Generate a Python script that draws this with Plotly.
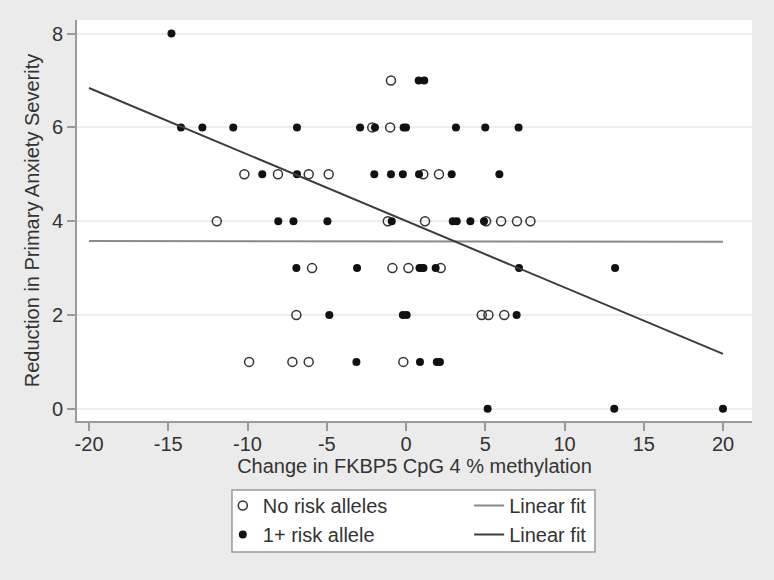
import plotly.graph_objects as go

# no risk alleles (open circles)
open_x = [-0.95,
          -2.13, -1.0,
          -10.2, -8.08, -6.14, -4.88, 1.09, 2.08,
          -11.94, -1.15, 1.2, 5.05, 6.0, 7.0, 7.85,
          -5.93, -0.86, 0.15, 2.19,
          -6.92, 4.78, 5.2, 6.2,
          -9.9, -7.17, -6.14, -0.17]
open_y = [7,
          6, 6,
          5, 5, 5, 5, 5, 5,
          4, 4, 4, 4, 4, 4, 4,
          3, 3, 3, 3,
          2, 2, 2, 2,
          1, 1, 1, 1]

# 1+ risk allele (filled dots)
risk_x = [-14.8,
          0.8, 1.15,
          -14.2, -12.85, -10.9, -6.88, -2.9, -1.96, -0.15, 0.0, 3.15, 5.0, 7.1,
          -9.07, -6.88, -2.0, -0.95, -0.2, 0.82, 2.88, 5.89,
          -8.06, -7.1, -4.96, -0.9, 2.95, 3.2, 4.06, 4.92,
          -6.92, -3.09, 0.85, 1.0, 1.1, 1.87, 7.13, 13.19,
          -4.84, -0.2, 0.04, 6.98,
          -3.13, 0.88, 1.94, 2.14,
          5.15, 13.14, 20.0]
risk_y = [8,
          7, 7,
          6, 6, 6, 6, 6, 6, 6, 6, 6, 6, 6,
          5, 5, 5, 5, 5, 5, 5, 5,
          4, 4, 4, 4, 4, 4, 4, 4,
          3, 3, 3, 3, 3, 3, 3, 3,
          2, 2, 2, 2,
          1, 1, 1, 1,
          0, 0, 0]

# linear fits (end points)
fit_x = [-20, 20]
open_fit_y = [3.58, 3.56]
risk_fit_y = [6.84, 1.17]

x_ticks = [-20, -15, -10, -5, 0, 5, 10, 15, 20]
x_tick_labels = ['-20', '-15', '-10', '-5', '0', '5', '10', '15', '20']
y_ticks = [0, 2, 4, 6, 8]

FONT = 'Liberation Sans, Arial, sans-serif'
TXT = '#333333'

fig = go.Figure()

fig.add_trace(go.Scatter(
    x=open_x, y=open_y, mode='markers', name='No risk alleles',
    marker=dict(symbol='circle-open', size=9, color='#333333',
                line=dict(width=1.5, color='#333333')),
    legend='legend', legendgroup='a'))
fig.add_trace(go.Scatter(
    x=risk_x, y=risk_y, mode='markers', name='1+ risk allele',
    marker=dict(symbol='circle', size=8, color='#111111'),
    legend='legend', legendgroup='b'))
fig.add_trace(go.Scatter(
    x=fit_x, y=open_fit_y, mode='lines', name='Linear fit',
    line=dict(color='#8a8a8a', width=2),
    legend='legend2', legendgroup='c'))
fig.add_trace(go.Scatter(
    x=fit_x, y=risk_fit_y, mode='lines', name='Linear fit',
    line=dict(color='#3c3c3c', width=2),
    legend='legend2', legendgroup='d'))

axis_common = dict(
    ticks='outside', ticklen=8, tickwidth=1.5, tickcolor='#999999',
    showline=True, linecolor='#9a9a9a', linewidth=2,
    zeroline=False,
    tickfont=dict(family=FONT, size=20, color=TXT),
)

fig.update_xaxes(
    range=[-20.76, 21.83], tickvals=x_ticks, ticktext=x_tick_labels,
    showgrid=False, ticklabelstandoff=-4,
    title=dict(text='Change in FKBP5 CpG 4 % methylation',
               font=dict(family=FONT, size=20, color=TXT), standoff=2),
    **axis_common)
fig.update_yaxes(
    range=[-0.26, 8.29], tickvals=y_ticks, showgrid=True,
    gridcolor='#ededed', gridwidth=1.5,
    title=dict(text='Reduction in Primary Anxiety Severity',
               font=dict(family=FONT, size=20, color=TXT), standoff=7),
    **axis_common)

legend_style = dict(
    font=dict(family=FONT, size=20, color=TXT),
    bgcolor='rgba(0,0,0,0)', borderwidth=0,
    traceorder='grouped', tracegroupgap=0,
    xanchor='left', yanchor='top', y=-0.162,
)

fig.update_layout(
    width=774, height=580,
    paper_bgcolor='#ebebeb',
    plot_bgcolor='#ffffff',
    margin=dict(l=77, r=22, t=20, b=159),
    font=dict(family=FONT, color=TXT),
    showlegend=True,
    legend=dict(x=0.216, **legend_style),
    legend2=dict(x=0.581, **legend_style),
    shapes=[dict(type='rect', xref='paper', yref='paper',
                 x0=0.2296, x1=0.7674, y0=-0.3267, y1=-0.172,
                 fillcolor='#ffffff', line=dict(color='#9a9a9a', width=1.5),
                 layer='below')],
)

# page has a default 8px body margin; drop it so the chart fills the window
fig.write_html('out.html', config={'displayModeBar': False},
               post_script="document.body.style.margin='0';")
